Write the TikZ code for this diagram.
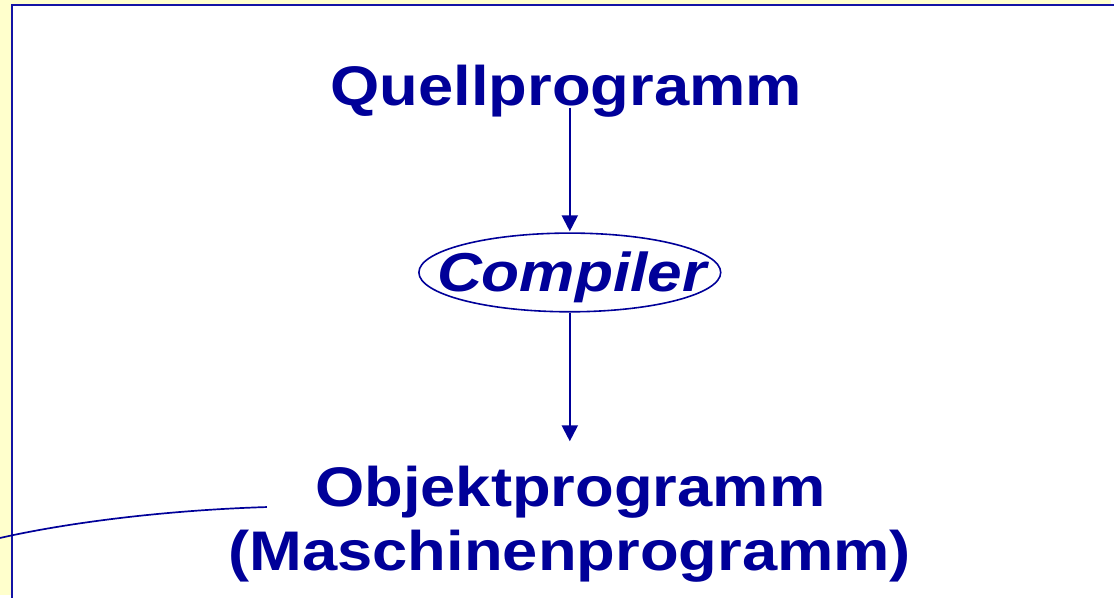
\documentclass[tikz,border=0pt]{standalone}
\usepackage{fontspec}
\newfontfamily\slidefont[FakeStretch=1.135]{Liberation Sans}
\usetikzlibrary{arrows.meta,shapes.geometric}
\definecolor{slidebg}{RGB}{255,255,204}
\definecolor{framebl}{RGB}{20,20,165}
\definecolor{inkblue}{RGB}{0,0,153}
\tikzset{
  title/.style={inner sep=0pt, anchor=base, text=inkblue,
    font=\slidefont\bfseries\fontsize{56}{65}\selectfont},
  flow/.style={draw=inkblue, line width=2.2pt,
    -{Triangle[width=16pt,length=16pt]}},
  procbox/.style={draw=inkblue, line width=1.6pt, ellipse,
    minimum width=303pt, minimum height=79pt, inner sep=0pt},
  leader/.style={draw=inkblue, line width=1.7pt}
}
\begin{document}
\begin{tikzpicture}[x=1pt,y=-1pt]
  % page background and slide frame
  \fill[slidebg] (0,0) rectangle (1115,597);
  \fill[white] (12,5) rectangle (1115,597);
  \draw[framebl, line width=2.6pt] (12,600) -- (12,5) -- (1118,5);
  \useasboundingbox (0,0) rectangle (1115,597);

  % texts
  \node[title] (q) at (568.5,106) {Quellprogramm};
  \node[procbox] (cmp) at (572,273.5) {};
  \node[title, font=\slidefont\bfseries\itshape\fontsize{55}{65}\selectfont]
    (cmptext) at (574,293) {Compiler};
  \node[title] (obj1) at (572.5,508) {Objektprogramm};
  \node[title] (obj2) at (572,573) {(Maschinenprogramm)};

  % flow arrows
  \draw[flow] ([yshift=-2pt]q.base -| cmp.north) -- ([yshift=1pt]cmp.north);
  \draw[flow] (cmp.south) -- ([yshift=65pt]obj1.base -| cmp.south);

  % leader line reaching in from the left
  \coordinate (lead0) at (-2,540.5);
  \coordinate (lead1) at (268,509);
  \draw[leader] (lead0) .. controls (70,524) and (170,512) .. (lead1);
\end{tikzpicture}
\end{document}
